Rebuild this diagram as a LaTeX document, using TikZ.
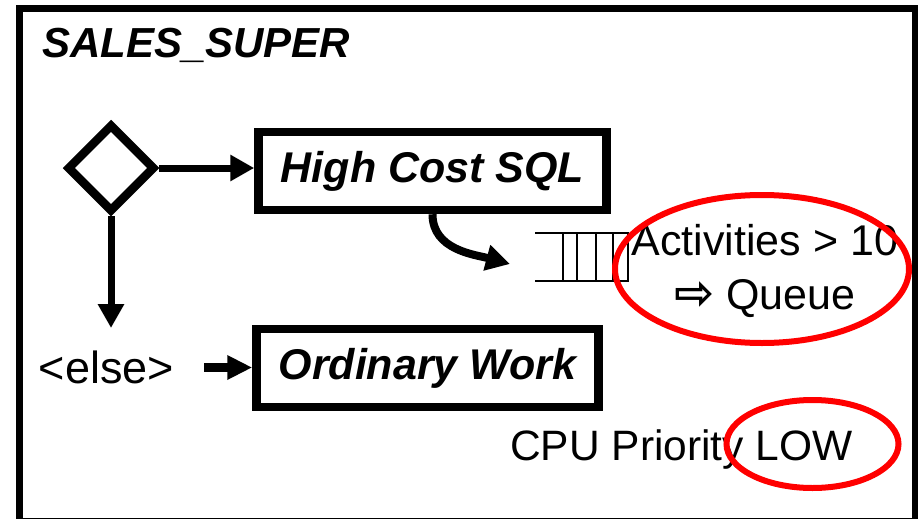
\documentclass[tikz,border=0pt]{standalone}
\usepackage{fontspec}
\setmainfont{Liberation Sans}
\newfontfamily\arrowfont{DejaVu Sans}
\usetikzlibrary{shapes.geometric,arrows.meta}
\tikzstyle{block} = [rectangle, draw, line width=8.5pt, minimum height=78pt,
    inner sep=0pt, font=\fontsize{43}{50}\selectfont\bfseries\itshape]
\tikzstyle{decision} = [diamond, draw, line width=8.5pt, minimum width=88pt,
    minimum height=88pt, inner sep=0pt]
\tikzstyle{plaintext} = [inner sep=0pt, font=\fontsize{43}{54}\selectfont]
\tikzstyle{line} = [draw, line width=7pt, -{Triangle[length=24pt,width=25pt]}]
\tikzstyle{slot} = [draw, line width=1.6pt]
\tikzstyle{ring} = [draw=red, line width=6pt]

\begin{document}
\begin{tikzpicture}[x=1pt, y=-1pt]
  \useasboundingbox (0,0) rectangle (918,519);
   % Frame and title
    \draw [line width=7pt] (19.5,9) rectangle (915,521);
    \node [plaintext, anchor=base west, font=\fontsize{42}{50}\selectfont\bfseries\itshape] (title) at (42,58) {SALES\_SUPER};
   % Place nodes
    \node [decision] (test) at (111,168) {};
    \node [block, minimum width=348pt] (costly) at (432.5,171) {High Cost SQL};
    \node [block, minimum width=342pt] (ordinary) at (427.5,368) {Ordinary Work};
    \node [plaintext, font=\fontsize{45}{54}\selectfont] (else) at (106.5,367.5) {<else>};
    \coordinate (down) at (111,328);
    \coordinate (qin) at (510,264);
    \node [slot, minimum width=65pt, minimum height=48pt, inner sep=0pt, outer sep=0pt] (queue) at (595.5,257) {};
    \node [plaintext, align=center] (limit) at (765,271) {Activities > 10\\{\arrowfont\bfseries\fontsize{48}{42}\selectfont ⇨} Queue};
    \node [plaintext, anchor=base west, font=\fontsize{42.5}{50}\selectfont] (prio) at (510,460) {CPU Priority LOW};
   % Queue slots
    \draw [slot] (queue.north west) -- ++(-28,0) (queue.south west) -- ++(-28,0);
    \foreach \dx in {14,33,50}
      \draw [slot] ([xshift=\dx pt]queue.north west) -- ([xshift=\dx pt]queue.south west);
   % Draw edges
    \path [line] (test.east) -- (test.east -| costly.west);
    \path [line] (test.south) -- (down);
    \path [line, line width=9pt, -{Triangle[length=25pt,width=23pt]}, shorten <=30pt] (else.east) -- (else.east -| ordinary.west);
    \path [line, line width=8pt] (costly.south) to [out=-90, in=165] (qin);
   % Red rings
    \draw [ring] (762,269) ellipse [x radius=147pt, y radius=74pt];
    \draw [ring] (812.5,444) ellipse [x radius=86pt, y radius=44pt];
  \end{tikzpicture}
\end{document}
